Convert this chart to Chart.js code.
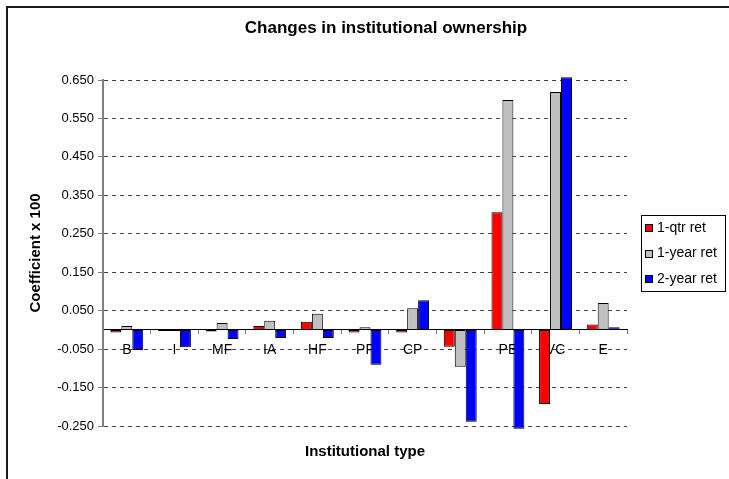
<!DOCTYPE html>
<html>
<head>
<meta charset="utf-8">
<script src="https://cdn.jsdelivr.net/npm/chart.js@4.4.1/dist/chart.umd.min.js"></script>
<style>
  html, body { margin: 0; padding: 0; background: #fff; }
  #wrap { width: 729px; height: 479px; position: relative; }
</style>
</head>
<body>
<div id="wrap"><canvas id="c" width="729" height="479"></canvas></div>
<script>
// Institutional investor types on the category axis
const categories = ['B', 'I', 'MF', 'IA', 'HF', 'PF', 'CP', 'F', 'PE', 'VC', 'E'];

// Regression coefficients (x 100) per return horizon
const qtrRet     = [-0.007, -0.003, -0.004, 0.010, 0.021, -0.007, -0.007, -0.044, 0.306, -0.193, 0.014];
const yearRet    = [ 0.010, -0.003,  0.018, 0.024, 0.042,  0.007,  0.056, -0.096, 0.598,  0.619, 0.070];
const twoYearRet = [-0.052, -0.045, -0.024, -0.021, -0.021, -0.091, 0.077, -0.239, -0.257, 0.657, 0.007];

const seriesNames = ['1-qtr ret', '1-year ret', '2-year ret'];
const yTickValues = [-0.25, -0.15, -0.05, 0.05, 0.15, 0.25, 0.35, 0.45, 0.55, 0.65];

const chartTitle = 'Changes in institutional ownership';
const xAxisTitle = 'Institutional type';
const yAxisTitle = 'Coefficient x 100';

const FONT = "'Liberation Sans', Arial, Helvetica, sans-serif";

// Frame, chart title, category-axis title and boxed legend
const decorations = {
  id: 'decorations',
  afterDraw(chart) {
    const ctx = chart.ctx;
    ctx.save();

    // outer frame
    ctx.strokeStyle = '#1a1a1a';
    ctx.lineWidth = 2;
    ctx.beginPath();
    ctx.moveTo(7, 490);
    ctx.lineTo(7, 7);
    ctx.lineTo(740, 7);
    ctx.stroke();

    ctx.fillStyle = '#000';
    ctx.textAlign = 'center';
    ctx.textBaseline = 'middle';
    ctx.font = 'bold 17px ' + FONT;
    ctx.fillText(chartTitle, 386, 28);
    ctx.font = 'bold 15px ' + FONT;
    const area = chart.chartArea;
    ctx.fillText(xAxisTitle, (area.left + area.right) / 2, 452);

    // legend
    const lx = 641, ly = 215, lw = 84, lh = 76;
    ctx.strokeStyle = '#000';
    ctx.lineWidth = 1;
    ctx.strokeRect(lx + 0.5, ly + 0.5, lw, lh);
    ctx.font = '14px ' + FONT;
    ctx.textAlign = 'left';
    chart.data.datasets.forEach((ds, i) => {
      const cy = ly + 13 + i * 25.5;
      ctx.fillStyle = ds.backgroundColor;
      ctx.fillRect(646, Math.round(cy) - 3, 6, 6);
      ctx.strokeStyle = '#000';
      ctx.strokeRect(645.5, Math.round(cy) - 3.5, 7, 7);
      ctx.fillStyle = '#000';
      ctx.fillText(ds.label, 657, cy);
    });
    ctx.restore();
  }
};

const barStyle = {
  borderColor: '#000',
  borderWidth: 1,
  borderSkipped: false,
  barPercentage: 1,
  categoryPercentage: 0.69,
  clip: false
};

new Chart(document.getElementById('c'), {
  type: 'bar',
  data: {
    labels: categories,
    datasets: [
      Object.assign({ label: seriesNames[0], data: qtrRet,     backgroundColor: '#ff0000' }, barStyle),
      Object.assign({ label: seriesNames[1], data: yearRet,    backgroundColor: '#c0c0c0' }, barStyle),
      Object.assign({ label: seriesNames[2], data: twoYearRet, backgroundColor: '#0000ff' }, barStyle)
    ]
  },
  options: {
    responsive: false,
    animation: false,
    devicePixelRatio: 1,
    layout: { padding: { left: 0, top: 80, right: 102, bottom: 53 } },
    plugins: {
      legend: { display: false },
      title: { display: false },
      tooltip: { enabled: false }
    },
    scales: {
      x: {
        position: { y: 0 },
        offset: true,
        grid: {
          display: true,
          drawOnChartArea: false,
          offset: true,
          tickLength: 4,
          tickColor: '#808080',
          color: '#808080'
        },
        border: { color: '#000', width: 1 },
        ticks: {
          font: { family: FONT, size: 14 },
          color: '#000',
          padding: 8,
          maxRotation: 0,
          autoSkip: false
        }
      },
      y: {
        min: -0.25,
        max: 0.65,
        afterBuildTicks(scale) {
          scale.ticks = yTickValues.map(v => ({ value: v }));
        },
        afterFit(scale) {
          scale.width = 103;
        },
        grid: {
          color: '#444',
          lineWidth: 1,
          tickLength: 5,
          tickColor: '#808080',
          tickBorderDash: []
        },
        border: { color: '#808080', width: 2, dash: [4, 4] },
        ticks: {
          font: { family: FONT, size: 13 },
          color: '#000',
          padding: 4,
          callback: v => Number(v).toFixed(3)
        },
        title: {
          display: true,
          text: yAxisTitle,
          font: { family: FONT, size: 15, weight: 'bold' },
          color: '#000',
          padding: { top: 27, bottom: 0 }
        }
      }
    }
  },
  plugins: [decorations]
});
</script>
</body>
</html>
